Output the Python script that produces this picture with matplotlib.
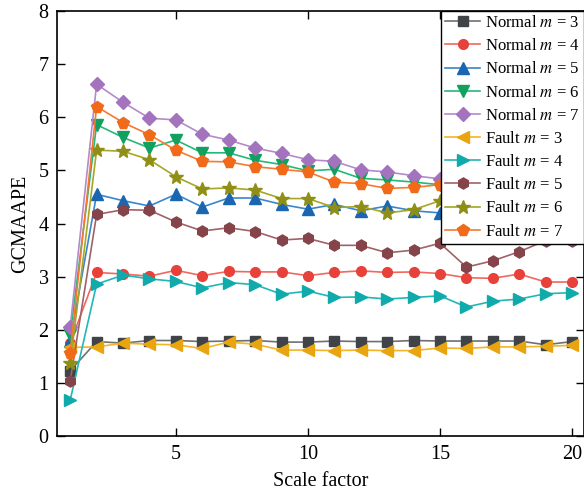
import matplotlib
matplotlib.use("Agg")
import matplotlib.pyplot as plt

plt.rcParams["font.family"] = ["Liberation Serif", "DejaVu Serif"]
plt.rcParams["mathtext.fontset"] = "stix"

scale = list(range(1, 21))

normal_m3 = [1.23, 1.78, 1.75, 1.80, 1.80, 1.78, 1.79, 1.80, 1.77, 1.77,
             1.79, 1.78, 1.78, 1.80, 1.79, 1.79, 1.79, 1.79, 1.72, 1.78]
normal_m4 = [1.75, 3.08, 3.05, 3.01, 3.12, 3.02, 3.10, 3.09, 3.09, 3.02,
             3.08, 3.11, 3.08, 3.09, 3.06, 2.98, 2.97, 3.05, 2.90, 2.90]
normal_m5 = [1.79, 4.55, 4.43, 4.33, 4.55, 4.31, 4.48, 4.48, 4.36, 4.27,
             4.36, 4.24, 4.33, 4.24, 4.20, 4.15, 4.12, 4.10, 4.05, 4.02]
normal_m6 = [1.91, 5.86, 5.62, 5.42, 5.57, 5.33, 5.33, 5.19, 5.11, 4.99,
             5.02, 4.85, 4.82, 4.78, 4.73, 4.68, 4.62, 4.58, 4.52, 4.48]
normal_m7 = [2.06, 6.62, 6.28, 5.98, 5.95, 5.68, 5.57, 5.42, 5.32, 5.20,
             5.17, 5.01, 4.97, 4.90, 4.84, 4.78, 4.72, 4.68, 4.62, 4.58]
fault_m3 = [1.67, 1.68, 1.75, 1.73, 1.72, 1.65, 1.77, 1.73, 1.62, 1.62,
            1.61, 1.62, 1.61, 1.61, 1.66, 1.65, 1.68, 1.68, 1.69, 1.71]
fault_m4 = [0.68, 2.86, 3.03, 2.96, 2.91, 2.79, 2.89, 2.85, 2.67, 2.73,
            2.61, 2.62, 2.58, 2.61, 2.64, 2.43, 2.54, 2.58, 2.68, 2.70]
fault_m5 = [1.04, 4.17, 4.26, 4.25, 4.03, 3.86, 3.92, 3.85, 3.69, 3.72,
            3.59, 3.59, 3.45, 3.50, 3.63, 3.18, 3.30, 3.47, 3.68, 3.68]
fault_m6 = [1.37, 5.38, 5.36, 5.20, 4.88, 4.65, 4.67, 4.63, 4.47, 4.47,
            4.30, 4.32, 4.20, 4.26, 4.43, 4.30, 4.25, 4.22, 4.18, 4.15]
fault_m7 = [1.57, 6.20, 5.90, 5.67, 5.38, 5.17, 5.16, 5.07, 5.02, 4.97,
            4.78, 4.75, 4.66, 4.68, 4.73, 4.62, 4.58, 4.55, 4.50, 4.45]

labels = [r"Normal $m$ = 3", r"Normal $m$ = 4", r"Normal $m$ = 5",
          r"Normal $m$ = 6", r"Normal $m$ = 7", r"Fault $m$ = 3",
          r"Fault $m$ = 4", r"Fault $m$ = 5", r"Fault $m$ = 6",
          r"Fault $m$ = 7"]
series = [normal_m3, normal_m4, normal_m5, normal_m6, normal_m7,
          fault_m3, fault_m4, fault_m5, fault_m6, fault_m7]

# (line colour, marker colour, marker, marker size)
styles = [
    ("#707070", "#404448", "s", 6.5),
    ("#f2675e", "#e8413a", "o", 7),
    ("#3a86cc", "#1a66b0", "^", 8.5),
    ("#26b878", "#12a060", "v", 8.5),
    ("#b48acc", "#a374bd", "D", 7),
    ("#f2b52a", "#e8a510", "<", 8.5),
    ("#22b6b6", "#10aaaa", ">", 8.5),
    ("#a06266", "#84444a", "h", 8),
    ("#a6a628", "#8f8f18", "*", 10),
    ("#f57a30", "#f06a1a", "p", 8.5),
]

fig = plt.figure(figsize=(5.84, 4.94), dpi=100)
ax = fig.add_axes([0.0976, 0.117, 0.9024, 0.861])

for y, lab, (lc, mc, mk, ms) in zip(series, labels, styles):
    ax.plot(scale, y, color=lc, linewidth=1.2, marker=mk, markersize=ms,
            markerfacecolor=mc, markeredgecolor=mc, label=lab)

ax.set_xlim(0.5, 20.45)
ax.set_ylim(0, 8)
ax.set_xticks([5, 10, 15, 20])
ax.set_yticks(range(0, 9))
ax.tick_params(direction="in", length=6, width=1, labelsize=14.5,
               top=True, right=True, pad=6)
for s in ax.spines.values():
    s.set_linewidth(1.2)

ax.set_xlabel("Scale factor", fontsize=14.5, labelpad=6)
ax.set_ylabel("GCMAAPE", fontsize=14.5, labelpad=6)

leg = ax.legend(loc="upper right", fontsize=12, frameon=True,
                fancybox=False, edgecolor="black", framealpha=1,
                borderaxespad=0, handlelength=2.1, handletextpad=0.3,
                labelspacing=0.43, borderpad=0.25)
leg.get_frame().set_linewidth(1.0)

fig.savefig("out.png", dpi=100)
